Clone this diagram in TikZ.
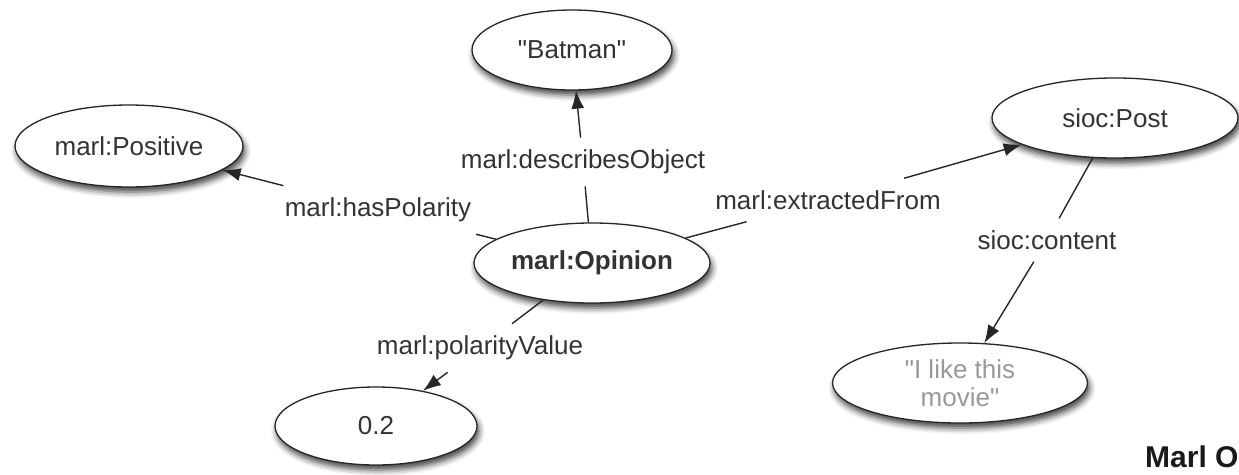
\documentclass[tikz,border=0pt]{standalone}
\usepackage{fontspec}
\setmainfont{Liberation Sans}[Ligatures=TeXOff]
\usetikzlibrary{shapes.geometric,arrows.meta,shadows.blur}
\begin{document}
\begin{tikzpicture}[x=1pt,y=-1pt,
  ent/.style={ellipse, draw=black!85, line width=1.3pt, fill=white, inner sep=0pt,
    text=black!80, font=\fontsize{26}{30}\selectfont,
    blur shadow={shadow xshift=2pt, shadow yshift=-5pt, shadow blur radius=6pt, shadow opacity=75}},
  lbl/.style={inner xsep=7pt, inner ysep=12pt, text=black!80, font=\fontsize{26}{30}\selectfont},
  link/.style={draw=black!85, line width=1.4pt},
  arr/.style={link, -{Latex[length=18pt,width=13pt]}}]
\useasboundingbox (0,0) rectangle (1239,474);
% entities
\node[ent, minimum width=200pt, minimum height=80pt] (batman) at (572,50) {"Batman"};
\node[ent, minimum width=228pt, minimum height=82pt] (positive) at (129,146) {marl:Positive};
\node[ent, minimum width=236pt, minimum height=80pt, font=\fontsize{26}{30}\selectfont\bfseries] (opinion) at (592,263) {marl:Opinion};
\node[ent, minimum width=202pt, minimum height=78pt] (val) at (376,426) {0.2};
\node[ent, minimum width=246pt, minimum height=80pt] (post) at (1115,118) {sioc:Post};
\node[ent, minimum width=255pt, minimum height=80pt, text=black!40, align=center, font=\fontsize{26}{28}\selectfont] (movie) at (960,383) {"I like this\\movie"};
% edge labels
\node[lbl] (ldesc) at (583,162) {marl:describesObject};
\node[lbl] (lpol) at (378,210) {marl:hasPolarity};
\node[lbl] (lext) at (828,200) {marl:extractedFrom};
\node[lbl] (lval) at (480,348) {marl:polarityValue};
\node[lbl] (lcont) at (1047,240) {sioc:content};
% connectors
\draw[link] (opinion) -- (ldesc);
\draw[arr] (ldesc) -- (batman);
\draw[link] (opinion) -- (lpol);
\draw[arr] (lpol) -- (positive);
\draw[link] (opinion) -- (lext);
\draw[arr] (lext) -- (post);
\draw[link] (opinion) -- (lval);
\draw[arr] (lval) -- (val);
\draw[link] (post) -- (lcont);
\draw[arr] (lcont) -- (movie);
% title (cut at the right edge)
\node[anchor=base west, inner sep=0pt, font=\fontsize{30}{34}\selectfont\bfseries, text=black!90] (title) at (1145,467) {Marl O};
\end{tikzpicture}
\end{document}
